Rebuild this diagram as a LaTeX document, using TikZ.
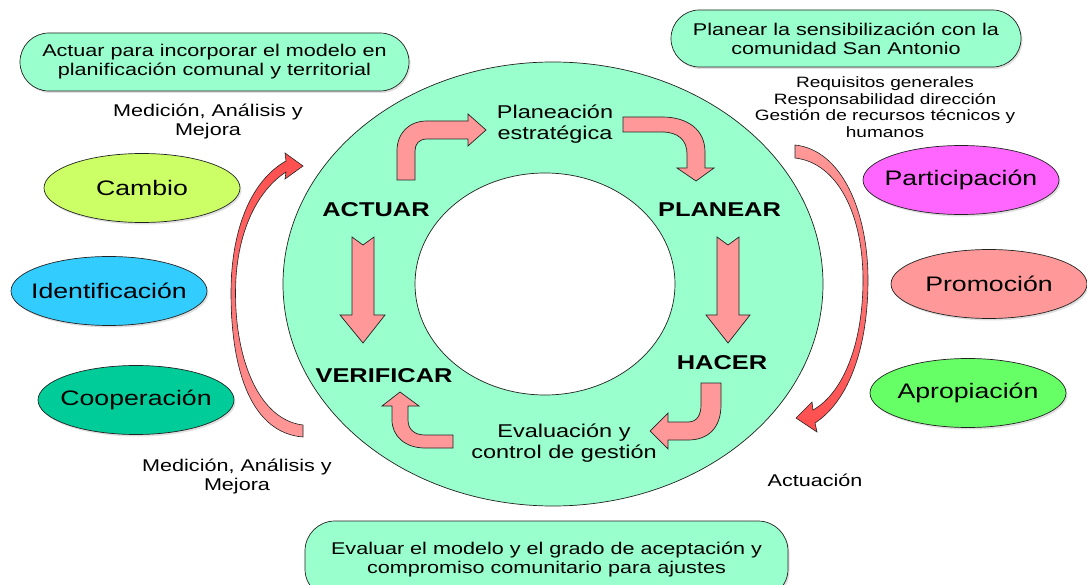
\documentclass[tikz,border=0pt]{standalone}
\usepackage{fontspec}
\setmainfont{Liberation Sans}[FakeStretch=1.27]
\usetikzlibrary{shapes.geometric,shadows}
\definecolor{mint}{HTML}{99FFCC}
\definecolor{apink}{HTML}{FF9999}
\definecolor{ared}{HTML}{FF4D4D}
\definecolor{cCambio}{HTML}{CCFF66}
\definecolor{cIdent}{HTML}{33CCFF}
\definecolor{cCoop}{HTML}{00CC99}
\definecolor{cPart}{HTML}{FF66FF}
\definecolor{cProm}{HTML}{FF9999}
\definecolor{cApro}{HTML}{66FF66}
\definecolor{lineC}{HTML}{222222}
\newcommand{\ztext}[1]{\makebox[0pt][c]{#1}}
\tikzset{
  lbl/.style={align=center, inner sep=0pt, text=black},
  oval/.style={ellipse, draw=lineC, line width=0.7pt, minimum width=196pt, minimum height=69pt, inner sep=0pt,
    font=\fontsize{21}{24}\selectfont, drop shadow={shadow xshift=1.5pt, shadow yshift=-2pt, opacity=0.25}},
  pill/.style={rectangle, draw=lineC, fill=mint, line width=0.7pt, align=center, inner sep=0pt,
    font=\fontsize{17}{19}\selectfont, drop shadow={shadow xshift=1.5pt, shadow yshift=-2pt, opacity=0.25}},
  barrow/.style={fill=apink, draw=lineC, line width=0.7pt, line join=miter},
  sidearrow/.style={draw=lineC, line width=0.6pt},
  bigtxt/.style={lbl, font=\fontsize{18.5}{21}\selectfont},
  stagetxt/.style={lbl, font=\bfseries\fontsize{20}{24}\selectfont},
  smalltxt/.style={lbl, font=\fontsize{17}{19}\selectfont},
}
\begin{document}
\begin{tikzpicture}[x=1pt,y=-1pt]
\useasboundingbox (0,0) rectangle (1087,585);
\clip (0,0) rectangle (1087,585);
\fill[white] (0,0) rectangle (1087,585);

% ring
\path[fill=mint, even odd rule, draw=lineC, line width=0.7pt]
  (553,284) ellipse [x radius=270pt, y radius=222pt]
  (545,284) ellipse [x radius=130pt, y radius=111pt];

% block arrows inside the ring
\draw[barrow] (397,180) -- (397,151) .. controls (397,133) and (409,121) .. (427,121) -- (468,121) -- (468,114) -- (486,130) -- (468,146) -- (468,139) -- (427,139) .. controls (419,139) and (415,144) .. (415,151) -- (415,180) -- cycle;
\draw[barrow] (623,117) -- (662,117) .. controls (688,117) and (705,130) .. (705,152) -- (705,168) -- (714,168) -- (696,181) -- (677,168) -- (687,168) -- (687,154) .. controls (687,140) and (678,132) .. (662,132) -- (623,132) -- cycle;
\draw[barrow] (352,237) -- (363,245) -- (374,237) -- (374,315) -- (385,315) -- (363,343) -- (340,315) -- (352,315) -- cycle;
\draw[barrow] (717,237) -- (728,245) -- (739,237) -- (739,315) -- (750,315) -- (728,343) -- (706,315) -- (717,315) -- cycle;
\draw[barrow] (701,383) -- (721,383) -- (721,405) .. controls (721,428) and (708,440) .. (688,440) -- (668,440) -- (668,449) -- (650,431) -- (668,413) -- (668,422) -- (688,422) .. controls (697,422) and (701,415) .. (701,405) -- cycle;
\draw[barrow] (453,435) -- (453,448) -- (425,448) .. controls (405,448) and (392,436) .. (392,420) -- (392,406) -- (382,406) -- (400,392) -- (419,406) -- (408,406) -- (408,420) .. controls (408,430) and (415,435) .. (425,435) -- cycle;

% side curved arrows
\path[sidearrow, top color=ared, bottom color=apink]
  (303,425) .. controls (260,420) and (235.5,362) .. (235.5,293) .. controls (235.5,232) and (258,190) .. (286,172)
  -- (285,179) -- (303,166) -- (285,153) -- (286,161)
  .. controls (252,180) and (231,228) .. (231,293) .. controls (231,372) and (252,433) .. (303,437) -- cycle;
\path[sidearrow, top color=apink, bottom color=ared]
  (795,145) .. controls (842,150) and (868,212) .. (868,280) .. controls (868,345) and (850,400) .. (815,423)
  -- (817,432) -- (796,418) -- (812,402) -- (813,410)
  .. controls (845,392) and (863,340) .. (863,280) .. controls (863,215) and (838,163) .. (795,158) -- cycle;

% ring labels
\node[bigtxt] (plan) at (555,124) {Planeación\\estratégica};
\node[bigtxt] (eval) at (564,443) {Evaluación y\\control de gestión};
\node[stagetxt] (actuar) at (376,210) {ACTUAR};
\node[stagetxt] (planear) at (719.5,210) {PLANEAR};
\node[stagetxt] (hacer) at (722,362.5) {HACER};
\node[stagetxt] (verif) at (384,375.5) {VERIFICAR};

% pills
\node[pill, minimum width=389pt, minimum height=58pt, rounded corners=28.9pt] (b1) at (214.5,62) {Actuar para incorporar el modelo en\\planificación comunal y territorial};
\node[pill, minimum width=350pt, minimum height=57pt, rounded corners=28.4pt] (b2) at (846,38.5) {Planear la sensibilización con la\\comunidad San Antonio};
\node[pill, minimum width=483pt, minimum height=78pt, rounded corners=30pt] (b3) at (546.5,560) {Evaluar el modelo y el grado de aceptación y\\compromiso comunitario para ajustes};

% ellipses
\node[oval, fill=cCambio] (cambio) at (142,188) {\ztext{Cambio}};
\node[oval, fill=cIdent] (ident) at (109,291) {\ztext{Identificación}};
\node[oval, fill=cCoop] (coop) at (136,400) {\ztext{Cooperación}};
\node[oval, fill=cPart] (part) at (961,180) {\ztext{Participación}};
\node[oval, fill=cProm] (prom) at (989,284) {\ztext{Promoción}};
\node[oval, fill=cApro] (apro) at (968,393) {\ztext{Apropiación}};

% small labels
\node[smalltxt] (med1) at (208,122) {Medición, Análisis y\\Mejora};
\node[smalltxt] (med2) at (237,477) {Medición, Análisis y\\Mejora};
\node[lbl, font=\fontsize{15}{16.7}\selectfont] (req) at (885,107) {Requisitos generales\\Responsabilidad dirección\\Gestión de recursos técnicos y\\humanos};
\node[smalltxt] (actn) at (815,480) {Actuación};
\end{tikzpicture}
\end{document}
